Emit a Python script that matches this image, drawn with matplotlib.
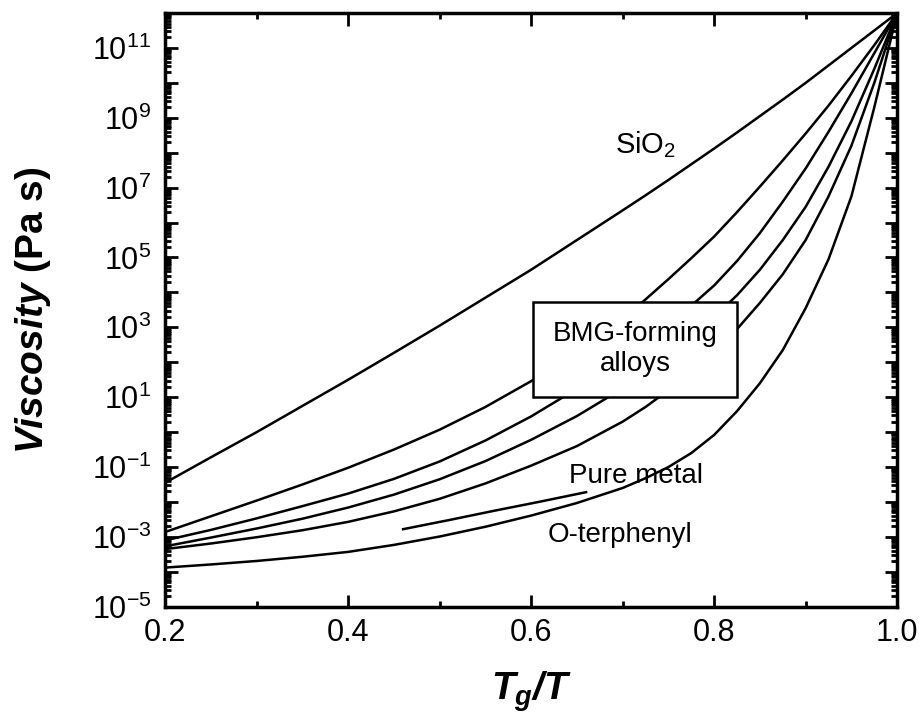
import matplotlib
matplotlib.use("Agg")
import matplotlib.pyplot as plt
import numpy as np
from matplotlib.ticker import FixedLocator, FuncFormatter, LogLocator, NullFormatter

plt.rcParams["font.family"] = "Liberation Sans"
plt.rcParams["mathtext.fontset"] = "custom"
plt.rcParams["mathtext.it"] = "Liberation Sans:italic:bold"
plt.rcParams["mathtext.rm"] = "Liberation Sans:italic:bold"
plt.rcParams["mathtext.bf"] = "Liberation Sans:bold"

# Tg/T grid shared by the long curves (denser where they bend up)
tg_t = [0.2, 0.25, 0.3, 0.35, 0.4, 0.45, 0.5, 0.55, 0.6, 0.65,
        0.7, 0.725, 0.75, 0.775, 0.8, 0.825, 0.85, 0.875, 0.9,
        0.925, 0.95, 0.975, 1.0]

# log10 viscosity (Pa s)
log_sio2 = [-1.45, -0.72, 0.0, 0.75, 1.5, 2.27, 3.05, 3.85, 4.65, 5.5,
            6.35, 6.78, 7.22, 7.67, 8.12, 8.58, 9.05, 9.52, 10.0,
            10.5, 11.0, 11.5, 12.0]
log_bmg1 = [-2.86, -2.41, -1.96, -1.5, -1.02, -0.5, 0.07, 0.72, 1.46, 2.3,
            3.25, 3.8, 4.38, 4.98, 5.6, 6.3, 7.03, 7.78, 8.55,
            9.35, 10.2, 11.08, 12.0]
log_bmg2 = [-3.1, -2.8, -2.47, -2.12, -1.76, -1.34, -0.84, -0.24, 0.45, 1.24,
            2.15, 2.6, 3.1, 3.62, 4.2, 4.9, 5.7, 6.6, 7.55,
            8.6, 9.7, 10.85, 12.0]
log_bmg3 = [-3.27, -3.02, -2.76, -2.48, -2.16, -1.79, -1.35, -0.83, -0.22, 0.46,
            1.25, 1.7, 2.2, 2.72, 3.3, 3.92, 4.65, 5.5, 6.45,
            7.6, 8.9, 10.4, 12.0]
log_bmg4 = [-3.35, -3.19, -3.01, -2.81, -2.57, -2.27, -1.91, -1.47, -0.96, -0.4,
            0.3, 0.72, 1.2, 1.72, 2.3, 2.95, 3.7, 4.52, 5.5,
            6.75, 8.2, 10.0, 12.0]
log_oterph = [-3.88, -3.79, -3.69, -3.57, -3.43, -3.23, -2.99, -2.71, -2.39, -2.03,
              -1.6, -1.32, -1.0, -0.6, -0.08, 0.6, 1.4, 2.35, 3.55,
              4.95, 6.75, 9.3, 12.0]

# short pure-metal segment
tg_t_metal = [0.46, 0.51, 0.56, 0.61, 0.66]
log_metal = [-2.78, -2.52, -2.25, -1.99, -1.72]

curves = [log_sio2, log_bmg1, log_bmg2, log_bmg3, log_bmg4, log_oterph]

fig = plt.figure(figsize=(9.23, 7.24), dpi=100)
ax = fig.add_axes([0.179, 0.162, 0.793, 0.820])

x = np.array(tg_t)
for c in curves:
    ax.plot(x, 10.0 ** np.array(c), color="black", lw=1.8, zorder=2)
ax.plot(tg_t_metal, 10.0 ** np.array(log_metal), color="black", lw=1.8, zorder=2)

ax.set_yscale("log")
ax.set_xlim(0.2, 1.0)
ax.set_ylim(1e-5, 1e12)

ax.xaxis.set_major_locator(FixedLocator([0.2, 0.4, 0.6, 0.8, 1.0]))
ax.xaxis.set_minor_locator(FixedLocator([0.3, 0.5, 0.7, 0.9]))
ax.xaxis.set_major_formatter(FuncFormatter(lambda v, p: f"{v:.1f}"))

ax.yaxis.set_major_locator(FixedLocator([10.0 ** e for e in range(-5, 13)]))
ax.yaxis.set_minor_locator(LogLocator(base=10, subs=np.arange(2, 10), numticks=40))
ax.yaxis.set_minor_formatter(NullFormatter())


def ylab(v, pos):
    e = int(round(np.log10(v)))
    if e % 2 == 0:
        return ""
    return r"$\mathdefault{10^{%d}}$" % e


ax.yaxis.set_major_formatter(FuncFormatter(ylab))

ax.tick_params(which="both", direction="in", top=True, right=True, width=2)
ax.tick_params(which="major", length=9, labelsize=22, pad=8)
ax.tick_params(which="minor", length=4.5)
ax.tick_params(axis="y", which="major", pad=10)
for s in ax.spines.values():
    s.set_linewidth(2.5)

ax.set_ylabel(r"$Viscosity$ (Pa s)", fontsize=28, fontweight="bold")
ax.yaxis.set_label_coords(-0.153, 0.5)
ax.set_xlabel(r"$T_g/T$", fontsize=28)
ax.xaxis.set_label_coords(0.5, -0.105)

ax.text(0.725, 10 ** 8.22, r"SiO$_{\mathdefault{2}}$", fontsize=21,
        ha="center", va="center")
ax.text(0.715, 10 ** -1.25, "Pure metal", fontsize=20, ha="center", va="center")
ax.text(0.697, 10 ** -2.94, "O-terphenyl", fontsize=20, ha="center", va="center")
ax.text(0.7137, 10 ** 2.37, "BMG-forming\nalloys", fontsize=20, ha="center",
        va="center", multialignment="center", zorder=5,
        bbox=dict(boxstyle="square,pad=0.7", fc="white", ec="black", lw=1.8))

fig.savefig("out.png", dpi=100)
